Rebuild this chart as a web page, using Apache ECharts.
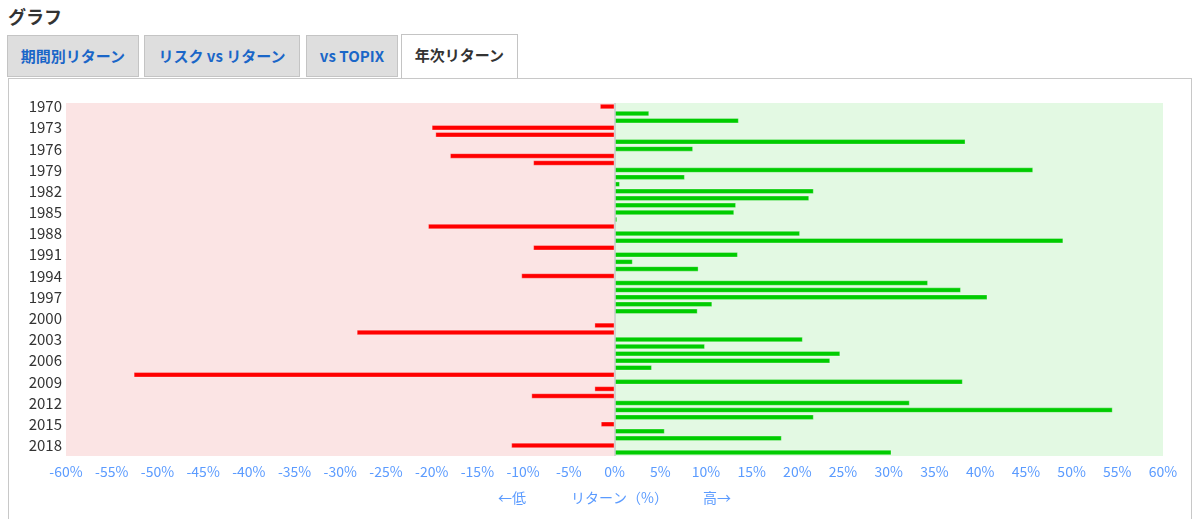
<!DOCTYPE html>
<html><head><meta charset="utf-8">
<script src="https://cdn.jsdelivr.net/npm/echarts@6/dist/echarts.min.js"></script>
<style>
html,body{margin:0;padding:0;background:#fff;width:1200px;height:519px;overflow:hidden;font-family:"Noto Sans","Noto Sans CJK JP",sans-serif;}
#title{position:absolute;left:8px;top:3px;font-size:18px;font-weight:bold;color:#333;font-family:"Noto Sans CJK JP",sans-serif;}
.tab{position:absolute;top:35px;height:42px;box-sizing:border-box;border:1px solid #c4c4c4;background:#dedede;color:#1a66c8;font-weight:bold;font-size:15px;line-height:40px;text-align:center;font-family:"Noto Sans CJK JP",sans-serif;}
.tab.active{background:#fff;color:#333;border-bottom:none;height:44px;top:34px;z-index:2;}
#box{position:absolute;left:8px;top:78px;width:1184px;height:460px;box-sizing:border-box;border:1px solid #c8c8c8;}
#chart{position:absolute;left:9px;top:79px;width:1182px;height:440px;}
</style></head>
<body>
<div id="title">グラフ</div>
<div class="tab" style="left:7px;width:132px;">期間別リターン</div>
<div class="tab" style="left:144px;width:156px;">リスク vs リターン</div>
<div class="tab" style="left:306px;width:92px;">vs TOPIX</div>
<div class="tab active" style="left:401px;width:117px;">年次リターン</div>
<div id="box"></div>
<div id="chart"></div>
<script>
const years = [];
for (let y = 1970; y <= 2019; y++) years.push(String(y));
const returns = [
  -1.6, 3.8, 13.6, -20.0, -19.6, 38.4, 8.6, -18.0, -8.9, 45.8,
  7.7, 0.6, 21.8, 21.3, 13.3, 13.1, 0.3, -20.4, 20.3, 49.1,
  -8.9, 13.5, 2.0, 9.2, -10.2, 34.3, 37.9, 40.8, 10.7, 9.1,
  0, -2.2, -28.2, 20.6, 9.9, 24.7, 23.6, 4.1, -52.6, 38.1,
  -2.2, -9.1, 32.3, 54.5, 21.8, -1.5, 5.5, 18.3, -11.3, 30.3
];
const axisName = '←低　　　 リターン（%）　　　高→';

const chart = echarts.init(document.getElementById('chart'));
chart.setOption({
  animation: false,
  grid: {left: 57, right: 28, top: 24, bottom: 63, containLabel: false},
  xAxis: {
    type: 'value', min: -60, max: 60, interval: 5,
    axisLine: {show: false}, axisTick: {show: false}, splitLine: {show: false},
    axisLabel: {formatter: '{value}%', color: '#5b9bff', fontSize: 14, margin: 9,
      fontFamily: 'Noto Sans CJK JP'},
    name: axisName, nameLocation: 'middle', nameGap: 35,
    nameTextStyle: {color: '#5b9bff', fontSize: 14, fontFamily: 'Noto Sans CJK JP'}
  },
  yAxis: {
    type: 'category', data: years, inverse: true,
    axisLine: {show: false}, axisTick: {show: false}, splitLine: {show: false},
    axisLabel: {interval: 2, color: '#333', fontSize: 15, margin: 4, padding: [0, 0, 3, 0],
      fontFamily: 'Noto Sans CJK JP'}
  },
  series: [{
    type: 'bar', data: returns, barWidth: 5.5,
    itemStyle: {
      color: p => p.value < 0 ? '#ff0000' : '#00cc00',
      borderColor: 'rgba(255,255,255,0.3)', borderWidth: 1
    },
    markArea: {
      silent: true,
      data: [
        [{xAxis: -60, itemStyle: {color: '#fbe4e4'}}, {xAxis: 0}],
        [{xAxis: 0, itemStyle: {color: '#e3f9e3'}}, {xAxis: 60}]
      ]
    },
    markLine: {
      silent: true, symbol: 'none', label: {show: false},
      lineStyle: {color: '#c8c8c8', width: 1.5, type: 'solid'},
      data: [{xAxis: 0}]
    }
  }]
});
</script>
</body></html>
